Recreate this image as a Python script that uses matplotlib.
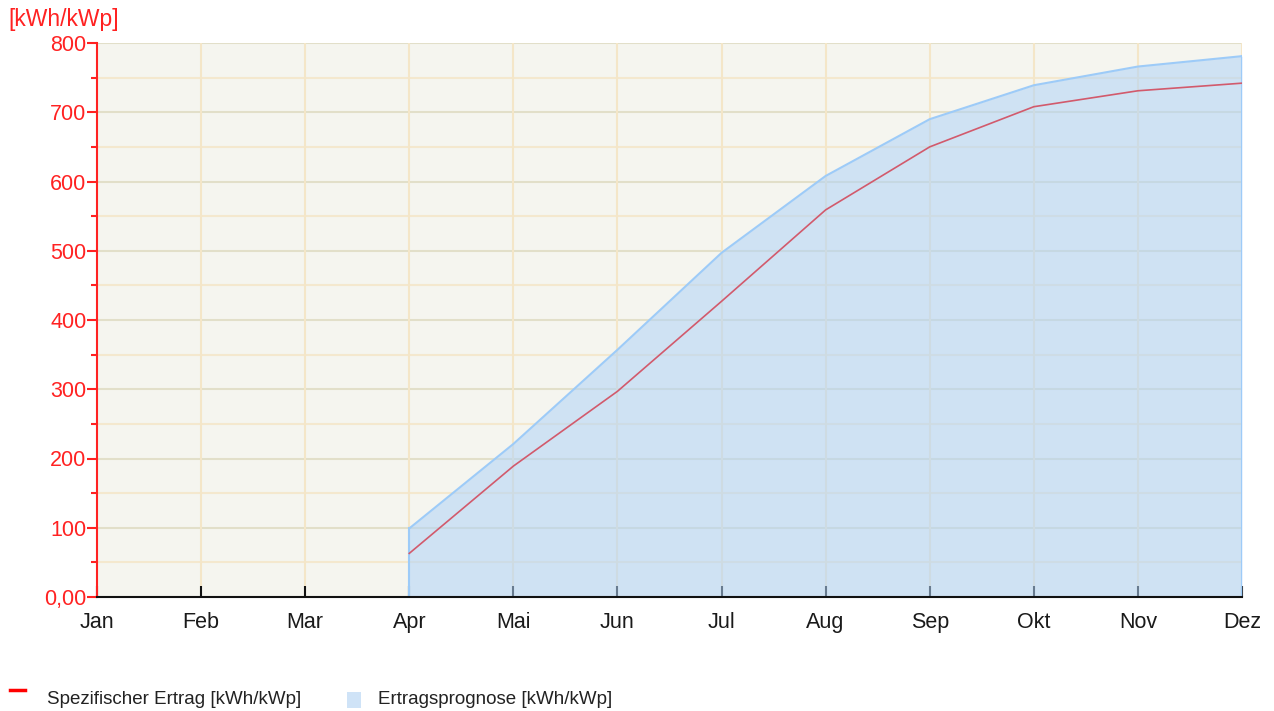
import numpy as np
import matplotlib
matplotlib.use('Agg')
import matplotlib.pyplot as plt
from matplotlib.lines import Line2D
from matplotlib.patches import Rectangle
from matplotlib.ticker import MultipleLocator, FuncFormatter

plt.rcParams['font.family'] = ['Liberation Sans', 'DejaVu Sans']

months = ['Jan', 'Feb', 'Mar', 'Apr', 'Mai', 'Jun', 'Jul', 'Aug', 'Sep', 'Okt', 'Nov', 'Dez']
# cumulative values, no data before April
ertragsprognose = [np.nan, np.nan, np.nan, 99, 221, 357, 497, 608, 690, 739, 766, 781]
spezifischer_ertrag = [np.nan, np.nan, np.nan, 63, 189, 297, 427, 559, 650, 708, 731, 742]
legend_labels = ['Spezifischer Ertrag [kWh/kWp]', 'Ertragsprognose [kWh/kWp]']

RED = '#FF2222'
W, H = 1274, 711

fig = plt.figure(figsize=(W / 100, H / 100), dpi=100)
ax = fig.add_axes([97 / W, 1 - 597 / H, (1242 - 97) / W, (597 - 43) / H])
ax.set_facecolor('#F5F5EF')

x = np.arange(len(months))
fc = np.array(ertragsprognose, dtype=float)
sp = np.array(spezifischer_ertrag, dtype=float)

# grid first, the fill is translucent on top of it
for v in range(50, 800, 100):
    ax.axhline(v, color='#F4E8CE', lw=1.5, zorder=1)
for v in range(100, 801, 100):
    ax.axhline(v, color='#E2DFC9', lw=1.5, zorder=1)
for i in x[1:]:
    ax.axvline(i, color='#F4E6C8', lw=1.5, zorder=1)

ax.fill_between(x, 0, fc, where=~np.isnan(fc), color='#B0D3F8', alpha=0.55, lw=0, zorder=2)
ax.plot(x, fc, color='#9DCBF8', lw=1.5, zorder=3)
first = int(np.where(~np.isnan(fc))[0][0])
ax.plot([x[first], x[first]], [0, fc[first]], color='#9DCBF8', lw=1.5, zorder=3)
ax.plot([x[-1], x[-1]], [0, fc[-1]], color='#9DCBF8', lw=1.5, zorder=3)
ax.plot(x, sp, color='#D25A6C', lw=1.2, zorder=4)

ax.set_xlim(0, 11)
ax.set_ylim(0, 800)
ax.set_xticks(x)
ax.set_xticklabels(months, fontsize=15.5, color='#1A1A1A')
ax.yaxis.set_major_locator(MultipleLocator(100))
ax.yaxis.set_minor_locator(MultipleLocator(50))
ax.yaxis.set_major_formatter(FuncFormatter(lambda v, p: '0,00' if v == 0 else '%d' % v))

ax.tick_params(axis='x', direction='in', length=8, width=1.5, color='#111111', pad=11)
ax.tick_params(axis='y', which='major', direction='out', length=7, width=1.5,
               color=RED, labelcolor=RED, labelsize=15.5, pad=0.5)
ax.tick_params(axis='y', which='minor', direction='out', length=4.5, width=1.5, color=RED)

for s in ['top', 'right']:
    ax.spines[s].set_visible(False)
ax.spines['left'].set_color(RED)
ax.spines['left'].set_linewidth(1.5)
ax.spines['bottom'].set_color('#111111')
ax.spines['bottom'].set_linewidth(1.5)
ax.spines['bottom'].set_zorder(5)

fig.text(8 / W, 1 - 31 / H, '[kWh/kWp]', color=RED, fontsize=16.5, ha='left', va='bottom')

# legend drawn by hand along the bottom edge
fig.add_artist(Line2D([10 / W, 25 / W], [1 - 690 / H] * 2, color='#FF0000', lw=2.5))
fig.text(47 / W, 1 - 704 / H, legend_labels[0], fontsize=13.5, color='#222222',
         ha='left', va='baseline')
fig.add_artist(Rectangle((347 / W, 1 - 708 / H), 14 / W, 16 / H,
                         transform=fig.transFigure, facecolor='#CFE3F7', edgecolor='none'))
fig.text(378 / W, 1 - 704 / H, legend_labels[1], fontsize=13.5, color='#222222',
         ha='left', va='baseline')

fig.savefig('out.png', dpi=100)
